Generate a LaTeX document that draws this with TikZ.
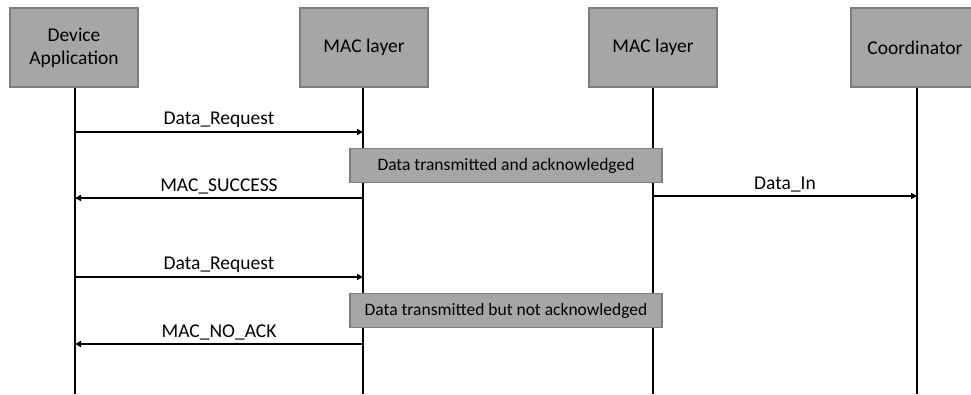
\documentclass[tikz,border=0pt]{standalone}
\usepackage{fontspec}
\setmainfont{Carlito}
\usetikzlibrary{arrows.meta}

\definecolor{boxgray}{RGB}{166,166,166}
\definecolor{edgegray}{RGB}{125,125,125}

\tikzset{
  layer/.style={draw=edgegray, line width=1.5pt, fill=boxgray, minimum width=128pt,
    minimum height=79pt, align=center, font=\fontsize{19.5}{23}\selectfont},
  note/.style={draw=edgegray, line width=1.5pt, fill=boxgray, minimum width=312pt,
    minimum height=34pt, font=\fontsize{17.5}{20}\selectfont},
  lifeline/.style={line width=2pt},
  msg/.style={line width=2pt, -{Triangle[length=6pt,width=6pt]}},
  msglabel/.style={font=\fontsize{19.5}{23}\selectfont, above, inner sep=3pt}
}

\begin{document}
\begin{tikzpicture}[x=1pt, y=-1pt]
\useasboundingbox (0,0) rectangle (971,394);

\node[layer] (dev) at (74,47.5) {Device\\Application};
\node[layer] (macA) at (364,47.5) {MAC layer};
\node[layer] (macB) at (653,47.5) {MAC layer};
\node[layer] (coord) at (915,47.5) {Coordinator};

\coordinate (devend) at (75,394);
\coordinate (macAend) at (363,394);
\coordinate (macBend) at (653,394);
\coordinate (coordend) at (917,394);

\draw[lifeline] (devend |- dev.south) -- (devend);
\draw[lifeline] (macAend |- macA.south) -- (macAend);
\draw[lifeline] (macBend |- macB.south) -- (macBend);
\draw[lifeline] (coordend |- coord.south) -- (coordend);

\draw[msg] (devend |- 0,132) -- node[msglabel] {Data\_Request} (macAend |- 0,132);
\node[note] (ack) at (506,165.5) {Data transmitted and acknowledged};
\draw[msg] (macAend |- 0,198) -- node[msglabel] {MAC\_SUCCESS} (devend |- 0,198);
\draw[msg] (macBend |- 0,196) -- node[msglabel] {Data\_In} (coordend |- 0,196);

\draw[msg] (devend |- 0,277) -- node[msglabel] {Data\_Request} (macAend |- 0,277);
\node[note] (noack) at (506,310.5) {Data transmitted but not acknowledged};
\draw[msg] (macAend |- 0,344) -- node[msglabel] {MAC\_NO\_ACK} (devend |- 0,344);

\end{tikzpicture}
\end{document}
